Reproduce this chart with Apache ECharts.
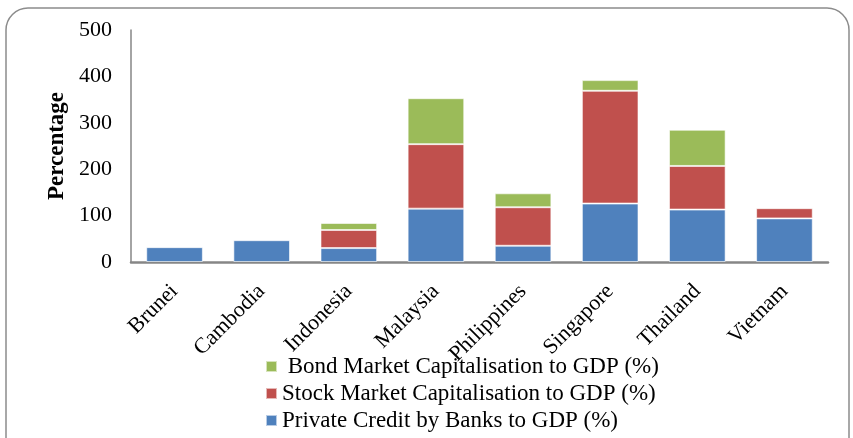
<!DOCTYPE html>
<html>
<head>
<meta charset="utf-8">
<script src="https://cdn.jsdelivr.net/npm/echarts@6/dist/echarts.min.js"></script>
<style>
  html, body { margin: 0; padding: 0; background: #fff; }
  #chart { width: 853px; height: 438px; }
</style>
</head>
<body>
<div id="chart"></div>
<script>
var countries = ['Brunei', 'Cambodia', 'Indonesia', 'Malaysia', 'Philippines', 'Singapore', 'Thailand', 'Vietnam']
var privateCredit = [32, 47, 30, 115, 35, 126, 113, 94]
var stockMarket = [0, 0, 39, 139, 83, 243, 94, 22]
var bondMarket = [0, 0, 15, 99, 30, 23, 78, 0]
var yTicks = [0, 100, 200, 300, 400, 500]

var serif = '"Liberation Serif", "Times New Roman", serif'
var chart = echarts.init(document.getElementById('chart'))

function barSeries (name, data, color) {
  return {
    name: name,
    type: 'bar',
    stack: 'total',
    barWidth: '65%',
    data: data.map(function (v) { return v === 0 ? null : v }),
    itemStyle: {color: color, borderColor: 'rgba(255,255,255,0.6)', borderWidth: 1},
    emphasis: {disabled: true}
  }
}

chart.setOption({
  animation: false,
  graphic: [{
    type: 'rect',
    shape: {x: 6, y: 8, width: 843, height: 460, r: 22},
    style: {fill: 'none', stroke: '#8c8c8c', lineWidth: 1.5},
    z: -1
  }],
  grid: {left: 131, right: 25, top: 30, bottom: 176},
  legend: {
    orient: 'vertical',
    left: 265,
    top: 355,
    height: 90,
    padding: 0,
    itemGap: 4,
    itemWidth: 11,
    itemHeight: 11,
    icon: 'rect',
    textStyle: {fontFamily: serif, fontSize: 23, color: '#000'},
    data: [' Bond Market Capitalisation to GDP (%)', 'Stock Market Capitalisation to GDP (%)', 'Private Credit by Banks to GDP (%)']
  },
  xAxis: {
    type: 'category',
    data: countries,
    axisLine: {lineStyle: {color: '#868686', width: 2.5}},
    axisTick: {show: false},
    axisLabel: {rotate: 45, margin: 26, fontFamily: serif, fontSize: 22, color: '#000', interval: 0}
  },
  yAxis: {
    type: 'value',
    min: yTicks[0],
    max: yTicks[yTicks.length - 1],
    interval: 100,
    name: 'Percentage',
    nameLocation: 'middle',
    nameGap: 62,
    nameTextStyle: {fontFamily: serif, fontSize: 23, fontWeight: 'bold', color: '#000'},
    axisLine: {show: true, lineStyle: {color: '#868686', width: 1.5}},
    axisTick: {show: false},
    splitLine: {show: false},
    axisLabel: {margin: 19, fontFamily: serif, fontSize: 22, color: '#000'}
  },
  series: [
    barSeries('Private Credit by Banks to GDP (%)', privateCredit, '#4F81BD'),
    barSeries('Stock Market Capitalisation to GDP (%)', stockMarket, '#C0504D'),
    barSeries(' Bond Market Capitalisation to GDP (%)', bondMarket, '#9BBB59')
  ]
})
</script>
</body>
</html>
